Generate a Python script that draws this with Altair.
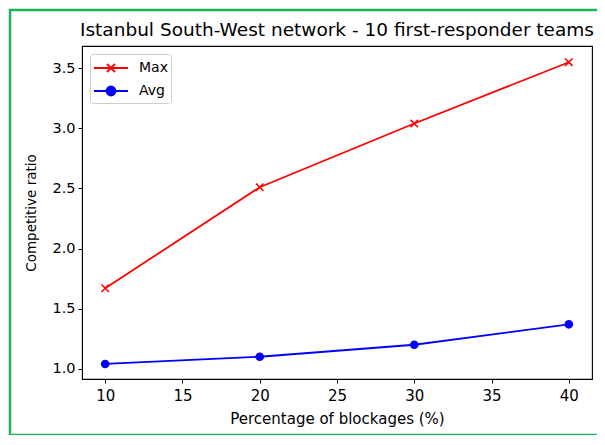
import altair as alt
import pandas as pd

blockages = [10, 20, 30, 40]
max_ratio = [1.67, 2.51, 3.04, 3.55]
avg_ratio = [1.04, 1.10, 1.20, 1.37]
series_names = ["Max", "Avg"]
series_colors = ["#ff0000", "#0000ff"]
x_ticks = [10, 15, 20, 25, 30, 35, 40]
y_ticks = [1.0, 1.5, 2.0, 2.5, 3.0, 3.5]

df = pd.DataFrame({
    "x": blockages * 2,
    "value": max_ratio + avg_ratio,
    "series": ["Max"] * 4 + ["Avg"] * 4,
})

FONT = "DejaVu Sans"
X_PATH = "M-1,-1L1,1M-1,1L1,-1"


def ring(r):
    return f"M{r},0A{r},{r},0,1,1,{-r},0A{r},{r},0,1,1,{r},0"


LEG_MAX = "M-1.7,0L1.7,0M-0.4,-0.4L0.4,0.4M-0.4,0.4L0.4,-0.4"
LEG_AVG = "M-1.7,0L1.7,0" + "".join(ring(r) for r in (0.45, 0.32, 0.19, 0.06))

xenc = alt.X("x:Q", scale=alt.Scale(domain=[8.5, 41.5], nice=False, zero=False),
             axis=alt.Axis(values=x_ticks, format="d", title="Percentage of blockages (%)"))
yenc = alt.Y("value:Q", scale=alt.Scale(domain=[0.915, 3.685], nice=False, zero=False),
             axis=alt.Axis(values=y_ticks, format=".1f", title="Competitive ratio"))
cscale = alt.Scale(domain=series_names, range=series_colors)

leg = alt.Legend(
    orient="top-left", offset=8, title=None,
    labelFont=FONT, labelFontSize=14, labelColor="#000",
    symbolSize=400, symbolStrokeWidth=1.8, symbolOffset=7,
    fillColor="white", strokeColor="#cccccc", cornerRadius=3,
    padding=3, rowPadding=4, labelOffset=17,
)

base = alt.Chart(df)

lines = base.mark_line(strokeWidth=1.8).encode(
    x=xenc, y=yenc,
    color=alt.Color("series:N", scale=cscale, title=None, legend=leg),
    detail="series:N")

pts_max = base.transform_filter(alt.datum.series == "Max").mark_point(
    shape=X_PATH, size=55, strokeWidth=1.6, filled=False, opacity=1
).encode(x="x:Q", y="value:Q",
         color=alt.Color("series:N", scale=cscale, title=None, legend=leg))

pts_avg = base.transform_filter(alt.datum.series == "Avg").mark_circle(
    size=75, opacity=1
).encode(x="x:Q", y="value:Q",
         color=alt.Color("series:N", scale=cscale, title=None, legend=leg))

legend_layer = base.mark_point(opacity=0, filled=False).encode(
    x="x:Q", y="value:Q",
    color=alt.Color("series:N", scale=cscale, title=None, legend=leg),
    shape=alt.Shape("series:N", scale=alt.Scale(domain=series_names, range=[LEG_MAX, LEG_AVG]),
                    title=None, legend=leg),
)

border = alt.Chart(pd.DataFrame({"a": [0]})).mark_rect(
    fill=None, stroke="#1db45a", strokeWidth=2.5
).encode(x=alt.value(-72), x2=alt.value(530), y=alt.value(-36), y2=alt.value(389))

chart = alt.layer(border, lines, pts_max, pts_avg, legend_layer).properties(
    width=510, height=333,
    autosize=alt.AutoSizeParams(type="none"),
    padding={"left": 74, "top": 38, "right": 5, "bottom": 56},
    title=alt.TitleParams("Istanbul South-West network - 10 first-responder teams",
                          font=FONT, fontSize=18.5, fontWeight="normal", color="#000",
                          anchor="middle", offset=6, dy=37, frame="group"),
).configure_view(stroke="#000", strokeWidth=1.1).configure_axis(
    labelFont=FONT, labelColor="#000",
    titleFont=FONT, titleFontWeight="normal", titleColor="#000",
    domainColor="#000", tickColor="#000", tickSize=4, grid=False,
).configure_axisY(labelFontSize=14.5, titleFontSize=13.5, titlePadding=13, labelPadding=3
).configure_axisX(labelFontSize=15, titleFontSize=15, titlePadding=8, labelPadding=5)

chart.save("out.html", embed_options={"renderer": "svg", "actions": False})
